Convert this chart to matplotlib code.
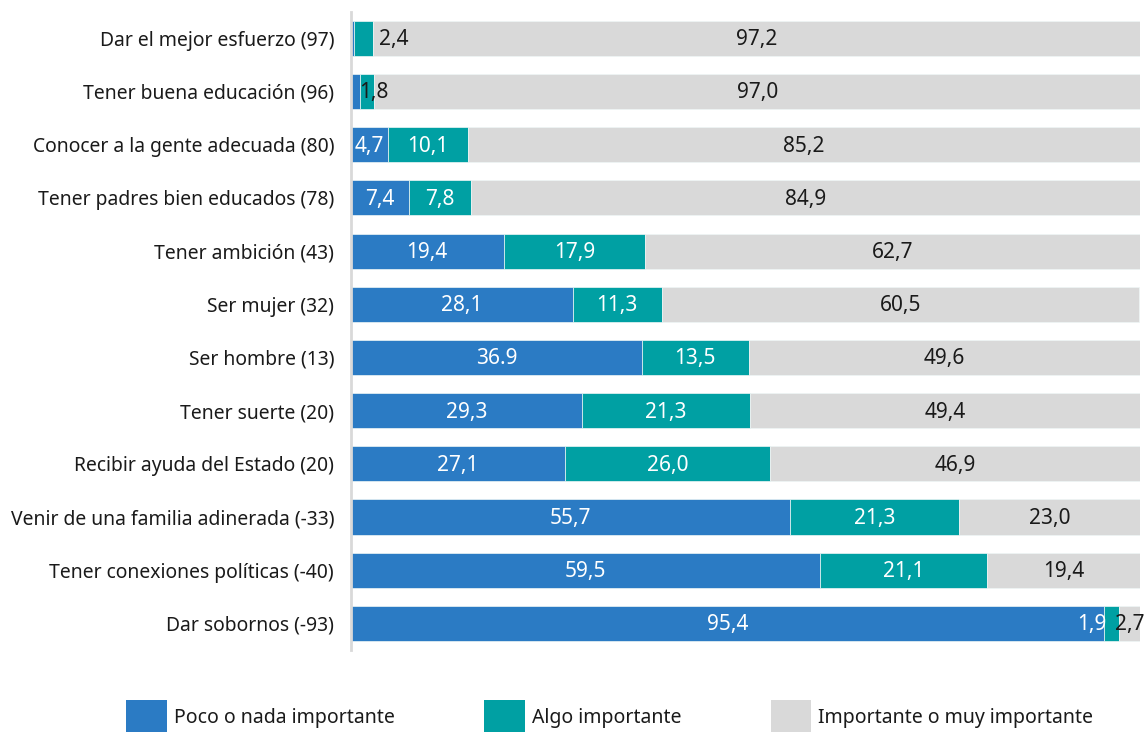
import matplotlib
matplotlib.use('Agg')
import matplotlib.pyplot as plt
from matplotlib.patches import Patch

plt.rcParams['font.family'] = ['Noto Sans', 'DejaVu Sans']

# Data
categories = ['Dar el mejor esfuerzo (97)', 'Tener buena educación (96)',
              'Conocer a la gente adecuada (80)', 'Tener padres bien educados (78)',
              'Tener ambición (43)', 'Ser mujer (32)', 'Ser hombre (13)',
              'Tener suerte (20)', 'Recibir ayuda del Estado (20)',
              'Venir de una familia adinerada (-33)', 'Tener conexiones políticas (-40)',
              'Dar sobornos (-93)']
poco = [0.4, 1.2, 4.7, 7.4, 19.4, 28.1, 36.9, 29.3, 27.1, 55.7, 59.5, 95.4]
algo = [2.4, 1.8, 10.1, 7.8, 17.9, 11.3, 13.5, 21.3, 26.0, 21.3, 21.1, 1.9]
importante = [97.2, 97.0, 85.2, 84.9, 62.7, 60.5, 49.6, 49.4, 46.9, 23.0, 19.4, 2.7]
series_names = ['Poco o nada importante', 'Algo importante', 'Importante o muy importante']

colors = ['#2b7bc4', '#00a0a3', '#d9d9d9']
text_colors = ['white', 'white', '#1a1a1a']
dark = '#1a1a1a'

# label tweaks: (row, segment) -> text override, nudge in points, colour
label_override = {(6, 0): '36.9'}
label_hide = {(0, 0), (1, 0)}
label_nudge = {(0, 1): 22, (1, 1): 5, (11, 1): -14}
label_color = {(0, 1): dark, (1, 1): dark}

fig = plt.figure(figsize=(11.46, 7.32), dpi=100)
ax = fig.add_axes([0.306, 0.112, 0.689, 0.872])

y = list(range(len(categories)))
left = [0.0] * len(categories)
for s, vals in enumerate([poco, algo, importante]):
    ax.barh(y, vals, left=left, height=0.66, color=colors[s],
            edgecolor='#eef6f6', linewidth=0.5)
    for i, v in enumerate(vals):
        if (i, s) in label_hide:
            continue
        txt = label_override.get((i, s), f'{v:.1f}'.replace('.', ','))
        ax.annotate(txt, (left[i] + v / 2, i), xytext=(label_nudge.get((i, s), 0), -1),
                    textcoords='offset points', ha='center', va='center',
                    fontsize=15, color=label_color.get((i, s), text_colors[s]))
    left = [l + v for l, v in zip(left, vals)]

ax.set_xlim(0, 100)
ax.set_ylim(len(categories) - 0.5, -0.5)
ax.set_yticks(y)
ax.set_yticklabels(categories)
ax.tick_params(axis='y', length=0, pad=12, labelsize=13.9, labelcolor=dark)
ax.set_xticks([])
for side in ['top', 'right', 'bottom']:
    ax.spines[side].set_visible(False)
ax.spines['left'].set_color('#d9d9d9')
ax.spines['left'].set_linewidth(2)

handles = [Patch(facecolor=c, edgecolor='none') for c in colors]
fig.legend(handles, series_names, loc='lower center', bbox_to_anchor=(0.532, -0.026),
           ncol=3, frameon=False, fontsize=14, handlelength=2.1, handleheight=2.24,
           handletextpad=0.35, columnspacing=4.6, labelcolor=dark)

fig.savefig('out.png', dpi=100)
